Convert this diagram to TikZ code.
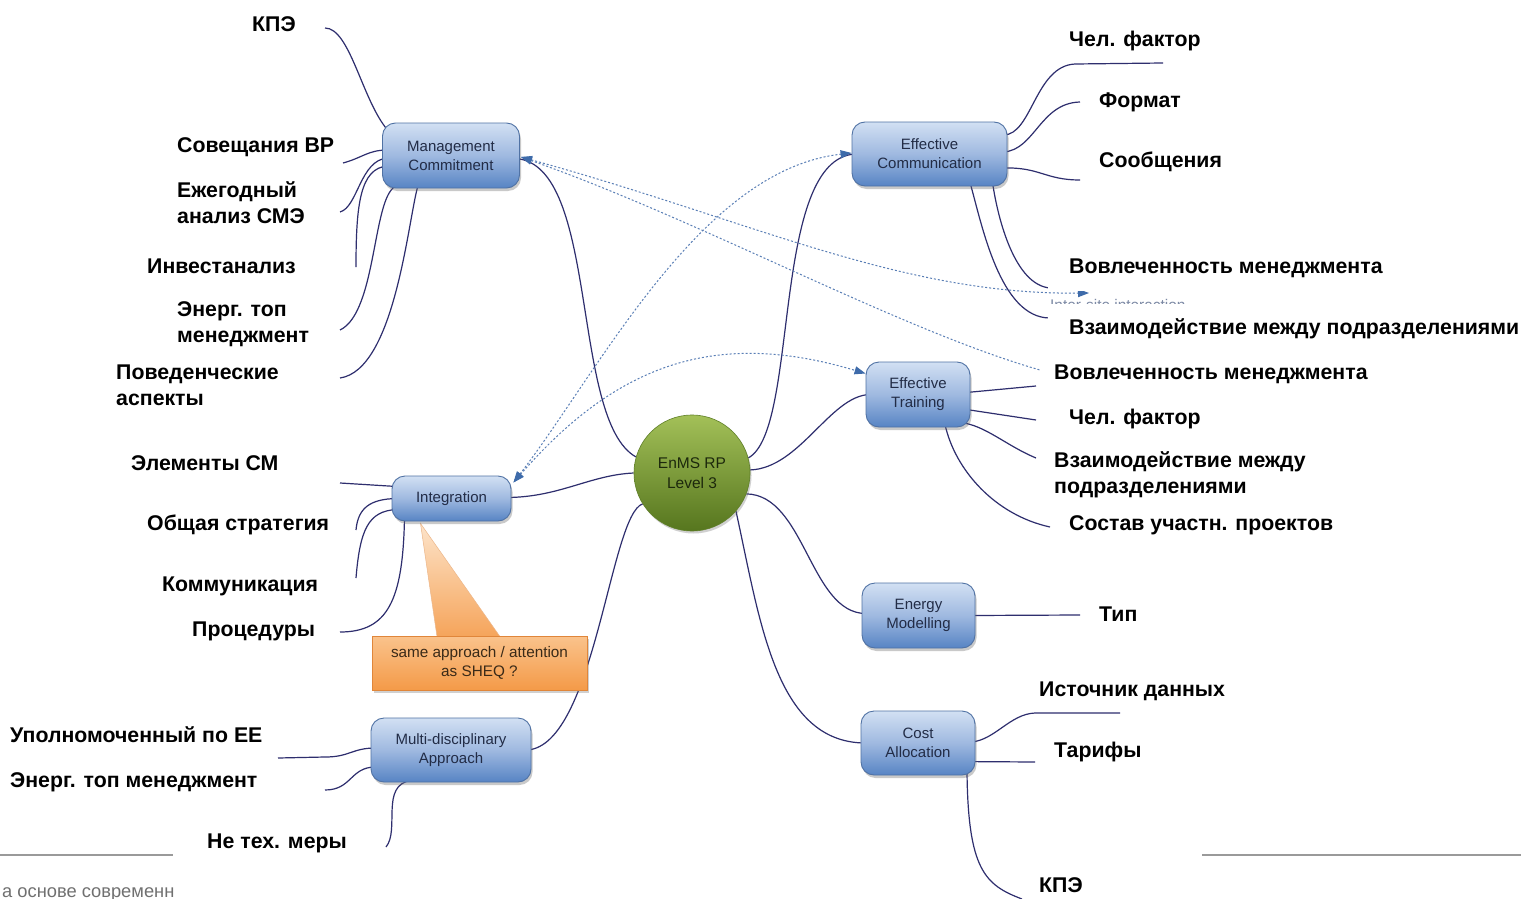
\documentclass[tikz,border=0pt]{standalone}
\usepackage{fontspec}
\setmainfont{Liberation Sans}
\usetikzlibrary{calc,shadows,arrows.meta}
\pgfdeclarelayer{background}
\pgfsetlayers{background,main}

\definecolor{boxtop}{HTML}{D2E0F3}
\definecolor{boxmid}{HTML}{9FB9E0}
\definecolor{boxbot}{HTML}{5784C4}
\definecolor{boxline}{HTML}{5072A4}
\definecolor{boxtext}{HTML}{222C46}
\definecolor{hubtop}{HTML}{A3C058}
\definecolor{hubbot}{HTML}{56761E}
\definecolor{hubline}{HTML}{5F7F28}
\definecolor{hubtext}{HTML}{1C280C}
\definecolor{branchcol}{HTML}{2E2E6E}
\definecolor{relcol}{HTML}{5A7FB6}
\definecolor{relhead}{HTML}{3E6BAA}
\definecolor{notetop}{HTML}{FAC38C}
\definecolor{notebot}{HTML}{F49A48}
\definecolor{noteline}{HTML}{E0863A}
\definecolor{notetext}{HTML}{3A2A18}
\definecolor{pointtop}{HTML}{FDE4CA}
\definecolor{ruleline}{HTML}{9A9A9A}
\definecolor{footcol}{HTML}{707070}
\definecolor{sitecol}{HTML}{7D8AA5}

\begin{document}
\begin{tikzpicture}[x=1pt,y=-1pt,
  topic/.style={rounded corners=13pt, draw=boxline, line width=0.9pt,
    top color=boxtop, bottom color=boxbot, middle color=boxmid,
    inner sep=0pt, align=center, text=boxtext,
    font=\fontsize{15}{19}\selectfont,
    drop shadow={shadow xshift=1.5pt, shadow yshift=-3pt, opacity=0.35, fill=black!60}},
  hub/.style={circle, minimum size=116pt, inner sep=0pt, draw=hubline, line width=0.6pt,
    top color=hubtop, bottom color=hubbot, align=center, text=hubtext,
    font=\fontsize{15.5}{19.5}\selectfont,
    drop shadow={shadow xshift=1.5pt, shadow yshift=-2.5pt, opacity=0.3, fill=black!60}},
  note/.style={draw=noteline, line width=0.8pt, top color=notetop, bottom color=notebot,
    inner sep=0pt, align=center, text=notetext, font=\fontsize{15.3}{19}\selectfont,
    drop shadow={shadow xshift=2pt, shadow yshift=-3pt, opacity=0.3, fill=black!60}},
  lab/.style={anchor=base west, inner sep=0pt, text=black,
    font=\bfseries\fontsize{21.3}{26}\selectfont},
  labtwo/.style={anchor=west, inner sep=0pt, align=left, text=black,
    font=\bfseries\fontsize{21.3}{26}\selectfont},
  branch/.style={draw=branchcol, line width=1.2pt},
  rel/.style={draw=relcol, line width=1pt, dash pattern=on 2pt off 2pt},
  reltip/.tip={Triangle[length=11pt,width=8pt,color=relhead,fill=relhead]}
]
\useasboundingbox (0,0) rectangle (1521,899);

% ---------- topics and hub ----------
\node[topic, minimum width=137pt, minimum height=65pt] (mc) at (451,155.5) {Management\\Commitment};
\node[topic, minimum width=155pt, minimum height=64pt] (ec) at (929.5,154) {Effective\\Communication};
\node[topic, minimum width=104pt, minimum height=65pt] (et) at (918,394.5) {Effective\\Training};
\node[topic, minimum width=119pt, minimum height=45pt] (intg) at (451.5,498.5) {Integration};
\node[topic, minimum width=113pt, minimum height=65pt] (em) at (918.5,615.5) {Energy\\Modelling};
\node[topic, minimum width=114pt, minimum height=64pt] (ca) at (918,743) {Cost\\Allocation};
\node[topic, minimum width=160pt, minimum height=64pt] (ma) at (451,750) {Multi-disciplinary\\Approach};
\node[hub] (hub) at (692,473) {EnMS RP\\Level 3};
\node[note, minimum width=215pt, minimum height=54pt] (note) at (479.5,663) {same approach / attention\\as SHEQ ?};

% ---------- leaf labels ----------
\node[lab] (lkpi) at (252,31.5) {КПЭ};
\node[lab] (lmeet) at (177,152.5) {Совещания ВР};
\node[labtwo] (lannual) at (177,203) {Ежегодный\\анализ СМЭ};
\node[lab] (linvest) at (147,273.5) {Инвестанализ};
\node[labtwo] (ltopm) at (177,324) {Энерг. топ\\менеджмент};
\node[labtwo] (lbehav) at (116,385) {Поведенческие\\аспекты};
\node[lab] (lelem) at (131,470.5) {Элементы СМ};
\node[lab] (lstrat) at (147,530.5) {Общая стратегия};
\node[lab] (lcomm) at (162,591.5) {Коммуникация};
\node[lab] (lproc) at (192,636.5) {Процедуры};
\node[lab] (lauth) at (10,742.5) {Уполномоченный по ЕЕ};
\node[lab] (ltopmb) at (10,787.5) {Энерг. топ менеджмент};
\node[lab] (lnontech) at (207,848.5) {Не тех. меры};

\node[lab] (rhuman) at (1069,46.5) {Чел. фактор};
\node[lab] (rformat) at (1099,107.5) {Формат};
\node[lab] (rmsg) at (1099,167.5) {Сообщения};
\node[lab] (rinv) at (1069,273.5) {Вовлеченность менеджмента};
\node[lab] (rinter) at (1069,334.5) {Взаимодействие между подразделениями};
\node[lab] (rinvb) at (1054,379.5) {Вовлеченность менеджмента};
\node[lab] (rhumanb) at (1069,424.5) {Чел. фактор};
\node[labtwo] (rinterb) at (1054,475) {Взаимодействие между\\подразделениями};
\node[lab] (rteam) at (1069,530.5) {Состав участн. проектов};
\node[lab] (rtype) at (1099,621.5) {Тип};
\node[lab] (rsrc) at (1039,696.5) {Источник данных};
\node[lab] (rtariff) at (1054,757.5) {Тарифы};
\node[lab] (rkpi) at (1039,892.5) {КПЭ};

% ---------- free ends of the branches ----------
\coordinate (a1) at (325,28);   \coordinate (a2) at (343,163);
\coordinate (a3) at (340,212);  \coordinate (a4) at (356,267);
\coordinate (a5) at (340,330);  \coordinate (a6) at (340,378);
\coordinate (b1) at (340,483);  \coordinate (b2) at (356,530);
\coordinate (b3) at (356,578);  \coordinate (b4) at (340,632);
\coordinate (c1) at (278,758);  \coordinate (c2) at (325,790);
\coordinate (c3) at (386,847);
\coordinate (d1) at (1163,63);  \coordinate (d2) at (1080,102);
\coordinate (d3) at (1080,180); \coordinate (d4) at (1050,288);
\coordinate (d5) at (1050,318);
\coordinate (e1) at (1036,386); \coordinate (e2) at (1036,420);
\coordinate (e3) at (1036,458); \coordinate (e4) at (1050,527);
\coordinate (g1) at (1080,615);
\coordinate (h1) at (1120,713); \coordinate (h2) at (1035,762);
\coordinate (h3) at (1022,899);
\coordinate (r1) at (1089,293); \coordinate (r2) at (1040,370);

% ---------- bottom rules and footer ----------
\draw[ruleline, line width=2pt] (0,855) -- (173,855);
\draw[ruleline, line width=2pt] (1202,855) -- (1521,855);
\begin{scope}
  \clip (0,870) rectangle (176,899);
  \node[anchor=base west, inner sep=0pt, text=footcol, font=\fontsize{18.3}{20}\selectfont] (foot) at (2,897) {а основе современн};
\end{scope}

\begin{pgfonlayer}{background}
\fill[white] (0,0) rectangle (1521,899);

% hub to topics
\draw[branch] (hub.164) .. controls (570,420) and (600,165) .. ($(mc.east)+(-4,3)$);
\draw[branch] (hub.15) .. controls (800,430) and (770,158) .. ($(ec.west)+(4,0)$);
\draw[branch] (hub.3) .. controls (800,468) and (830,396) .. ($(et.west)+(4,0)$);
\draw[branch] (hub.180) .. controls (590,475) and (560,497) .. ($(intg.east)+(-4,-1)$);
\draw[branch] (hub.-21) .. controls (805,495) and (810,613) .. ($(em.west)+(4,-2)$);
\draw[branch] (hub.-41) .. controls (760,620) and (775,742) .. ($(ca.west)+(4,0)$);
\draw[branch] (hub.212) .. controls (610,515) and (595,745) .. ($(ma.east)+(-4,0)$);

% Management Commitment leaves
\draw[branch] (a1) .. controls (350,28) and (362,100) .. ($(mc.west)+(5.5,-25.5)$);
\draw[branch] (a2) .. controls (362,158) and (368,150) .. ($(mc.west)+(5.5,-5.5)$);
\draw[branch] (a3) .. controls (358,207) and (360,160) .. ($(mc.west)+(5.5,2.5)$);
\draw[branch] (a4) .. controls (356,205) and (360,168) .. ($(mc.west)+(5.5,10.5)$);
\draw[branch] (a5) .. controls (378,312) and (372,190) .. ($(mc.south)+(-53,-3)$);
\draw[branch] (a6) .. controls (395,370) and (408,220) .. ($(mc.south)+(-33,-3)$);

% Integration leaves
\draw[branch] (b1) -- ($(intg.west)+(5,-12)$);
\draw[branch] (b2) .. controls (358,508) and (370,499) .. ($(intg.west)+(5,0)$);
\draw[branch] (b3) .. controls (360,530) and (368,511) .. ($(intg.west)+(5,11)$);
\draw[branch] (b4) .. controls (388,632) and (403,600) .. ($(intg.south)+(-47,-4)$);

% Multi-disciplinary Approach leaves
\draw[branch] (c1) -- (325,757) .. controls (350,757) and (352,748) .. ($(ma.west)+(5,-2)$);
\draw[branch] (c2) .. controls (352,790) and (350,767) .. ($(ma.west)+(5,17)$);
\draw[branch] (c3) .. controls (400,830) and (380,785) .. ($(ma.south)+(-40,-2)$);

% Effective Communication leaves
\draw[branch] (d1) -- (1075,64) .. controls (1035,66) and (1032,135) .. ($(ec.east)+(-4,-19)$);
\draw[branch] (d2) .. controls (1040,103) and (1035,150) .. ($(ec.east)+(-4,-2)$);
\draw[branch] (d3) .. controls (1045,180) and (1040,167) .. ($(ec.east)+(-4,14)$);
\draw[branch] (d4) .. controls (1015,285) and (998,220) .. ($(ec.south)+(63,-4)$);
\draw[branch] (d5) .. controls (1000,318) and (982,225) .. ($(ec.south)+(40.5,-4)$);

% Effective Training leaves
\draw[branch] (e1) -- ($(et.east)+(-4,-2)$);
\draw[branch] (e2) -- ($(et.east)+(-4,15)$);
\draw[branch] (e3) .. controls (1005,445) and (985,425) .. ($(et.south)+(42,-5)$);
\draw[branch] (e4) .. controls (995,515) and (955,470) .. ($(et.south)+(27,-3)$);

% Energy Modelling and Cost Allocation leaves
\draw[branch] (g1) -- ($(em.east)+(-4,0)$);
\draw[branch] (h1) -- (1035,713) .. controls (1010,714) and (995,740) .. ($(ca.east)+(-4,-1)$);
\draw[branch] (h2) -- ($(ca.east)+(-4,18.6)$);
\draw[branch] (h3) .. controls (985,885) and (968,870) .. ($(ca.south)+(49,-4)$);

% dotted relations
\draw[rel, reltip-reltip] ($(mc.east)+(1,1.5)$) .. controls (750,220) and (900,295) .. (r1);
\draw[rel, reltip-] ($(mc.east)+(1,1.5)$) .. controls (700,220) and (900,330) .. (r2);
\draw[rel, reltip-reltip] ($(intg.east)+(2,-16)$) .. controls (600,370) and (700,170) .. ($(ec.west)+(0,-1)$);
\draw[rel, reltip-reltip] ($(intg.east)+(2,-16)$) .. controls (620,360) and (720,330) .. ($(et.west)+(0,-21)$);

% callout pointer
\path[top color=pointtop, bottom color=notebot!90!white, draw=noteline!60, line width=0.5pt]
  ($(intg.south)+(-31,2)$) -- ($(note.north)+(20.5,1)$) -- ($(note.north)+(-42.5,1)$) -- cycle;

% partly covered caption behind the right-hand labels
\node[anchor=base west, inner sep=0pt, text=sitecol, font=\fontsize{15.4}{18}\selectfont] (site) at (1050,310) {Inter-site interaction};
\fill[white] (1048,245) rectangle (1395,290.5);
\fill[white] (1048,304) rectangle (1521,348);
\end{pgfonlayer}
\end{tikzpicture}
\end{document}
